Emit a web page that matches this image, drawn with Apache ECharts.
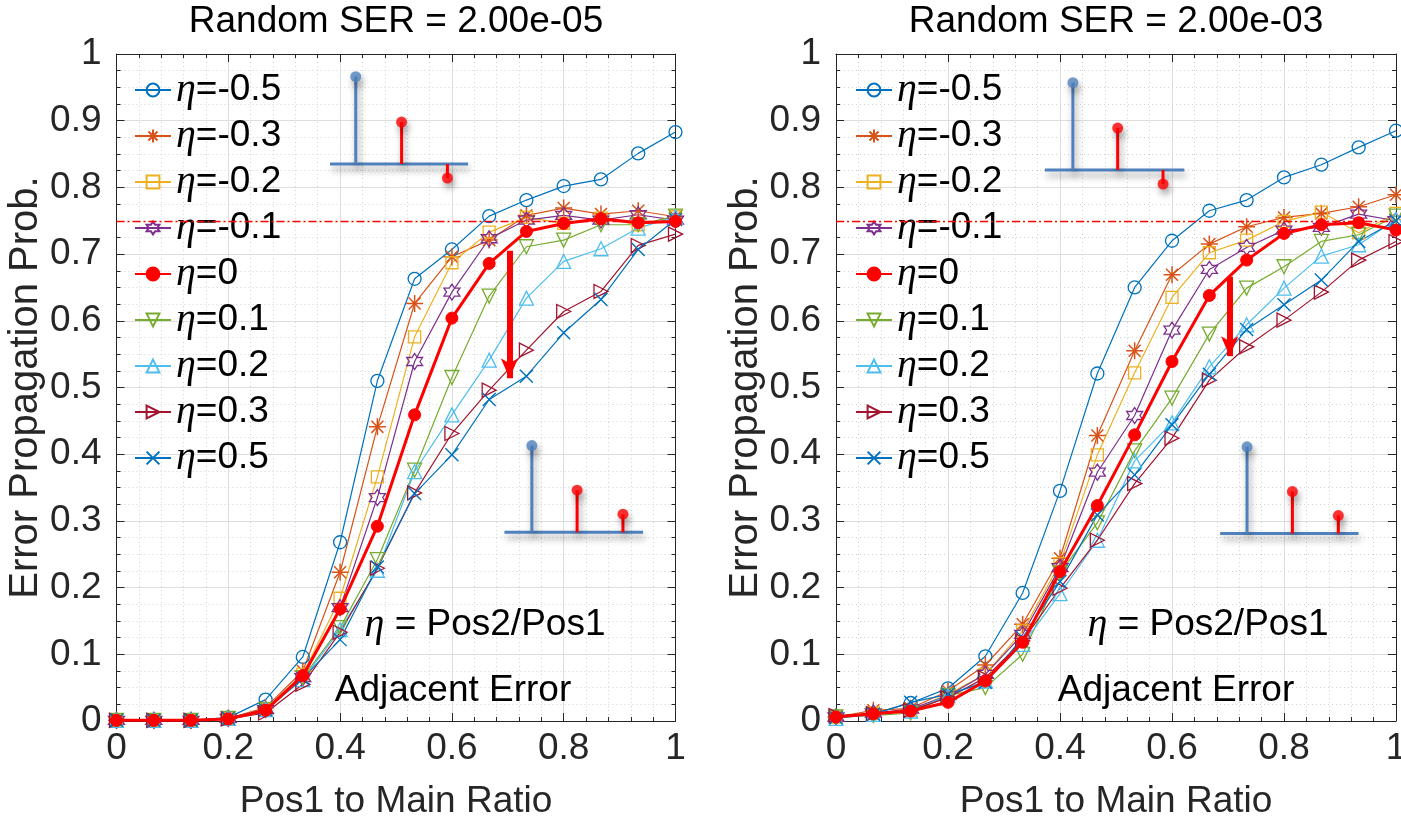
<!DOCTYPE html>
<html><head><meta charset="utf-8">
<script src="https://cdn.jsdelivr.net/npm/echarts@6/dist/echarts.min.js"></script>
<style>html,body{margin:0;padding:0;background:#fff}#c{width:1401px;height:821px}</style>
</head><body><div id="c"></div>
<script>
// ---------- data ----------
const posRatio = [0, 0.0667, 0.1333, 0.2, 0.2667, 0.3333, 0.4, 0.4667, 0.5333, 0.6, 0.6667, 0.7333, 0.8, 0.8667, 0.9333, 1];
const etaNames = ['η=-0.5', 'η=-0.3', 'η=-0.2', 'η=-0.1', 'η=0', 'η=0.1', 'η=0.2', 'η=0.3', 'η=0.5'];
const panelTitles = ['Random SER = 2.00e-05', 'Random SER = 2.00e-03'];
const xTickLabels = ['0', '0.2', '0.4', '0.6', '0.8', '1'];
const yTickLabels = ['0', '0.1', '0.2', '0.3', '0.4', '0.5', '0.6', '0.7', '0.8', '0.9', '1'];
const xName = 'Pos1 to Main Ratio';
const yName = 'Error Propagation Prob.';
const threshold = 0.75;

// SER = 2e-5
const L_m05 = [0.001, 0.001, 0.001, 0.005, 0.032, 0.096, 0.268, 0.510, 0.663, 0.707, 0.757, 0.781, 0.802, 0.812, 0.851, 0.883];
const L_m03 = [0.001, 0.001, 0.001, 0.004, 0.020, 0.075, 0.223, 0.441, 0.626, 0.696, 0.721, 0.758, 0.769, 0.760, 0.765, 0.756];
const L_m02 = [0.001, 0.001, 0.001, 0.004, 0.018, 0.070, 0.184, 0.366, 0.576, 0.687, 0.733, 0.755, 0.746, 0.754, 0.744, 0.756];
const L_m01 = [0.001, 0.001, 0.001, 0.004, 0.017, 0.065, 0.170, 0.335, 0.539, 0.643, 0.723, 0.751, 0.758, 0.751, 0.759, 0.751];
const L_0   = [0.001, 0.001, 0.001, 0.003, 0.016, 0.068, 0.168, 0.292, 0.459, 0.604, 0.686, 0.734, 0.746, 0.753, 0.747, 0.749];
const L_p01 = [0.001, 0.001, 0.001, 0.004, 0.017, 0.065, 0.140, 0.242, 0.376, 0.515, 0.637, 0.711, 0.721, 0.744, 0.744, 0.757];
const L_p02 = [0.001, 0.001, 0.001, 0.004, 0.017, 0.062, 0.137, 0.226, 0.374, 0.459, 0.541, 0.634, 0.689, 0.708, 0.739, 0.756];
const L_p03 = [0.001, 0.001, 0.001, 0.003, 0.012, 0.055, 0.133, 0.229, 0.342, 0.431, 0.496, 0.556, 0.614, 0.644, 0.713, 0.730];
const L_p05 = [0.001, 0.001, 0.001, 0.004, 0.017, 0.064, 0.122, 0.231, 0.341, 0.399, 0.482, 0.517, 0.582, 0.632, 0.707, 0.752];

// SER = 2e-3
const R_m05 = [0.007, 0.011, 0.027, 0.049, 0.097, 0.192, 0.345, 0.521, 0.650, 0.720, 0.765, 0.781, 0.815, 0.834, 0.860, 0.885];
const R_m03 = [0.006, 0.016, 0.019, 0.045, 0.084, 0.145, 0.244, 0.428, 0.555, 0.669, 0.715, 0.741, 0.755, 0.761, 0.771, 0.789];
const R_m02 = [0.006, 0.012, 0.016, 0.040, 0.070, 0.135, 0.236, 0.399, 0.522, 0.635, 0.702, 0.721, 0.749, 0.763, 0.732, 0.761];
const R_m01 = [0.006, 0.012, 0.018, 0.038, 0.070, 0.130, 0.230, 0.373, 0.458, 0.586, 0.677, 0.710, 0.736, 0.740, 0.760, 0.750];
const R_0   = [0.006, 0.011, 0.015, 0.028, 0.060, 0.118, 0.224, 0.323, 0.429, 0.539, 0.638, 0.691, 0.731, 0.744, 0.747, 0.736];
const R_p01 = [0.006, 0.008, 0.012, 0.038, 0.050, 0.100, 0.222, 0.297, 0.405, 0.484, 0.580, 0.649, 0.681, 0.719, 0.729, 0.757];
const R_p02 = [0.004, 0.010, 0.015, 0.038, 0.060, 0.115, 0.191, 0.271, 0.390, 0.447, 0.531, 0.594, 0.649, 0.697, 0.714, 0.752];
const R_p03 = [0.008, 0.011, 0.016, 0.035, 0.065, 0.120, 0.199, 0.271, 0.356, 0.424, 0.511, 0.561, 0.601, 0.643, 0.691, 0.719];
const R_p05 = [0.005, 0.010, 0.028, 0.040, 0.058, 0.125, 0.209, 0.309, 0.369, 0.444, 0.520, 0.587, 0.624, 0.661, 0.719, 0.750];

const panelData = [
  [L_m05, L_m03, L_m02, L_m01, L_0, L_p01, L_p02, L_p03, L_p05],
  [R_m05, R_m03, R_m02, R_m01, R_0, R_p01, R_p02, R_p03, R_p05]
];

// red arrows (x, from, to) in data units
const arrowX = [0.703, 0.703];
const arrowFrom = [0.705, 0.666];
const arrowTo = [0.514, 0.547];

// decorative stem icons in data units: baseline [x0,x1,y], stems [x, top]
const iconBase = [
  [[0.382, 0.629, 0.835], [0.694, 0.942, 0.283]],
  [[0.373, 0.622, 0.826], [0.686, 0.933, 0.281]]
];
const iconStems = [
  [[[0.428, 0.966], [0.510, 0.898], [0.592, 0.814]], [[0.743, 0.413], [0.824, 0.346], [0.906, 0.310]]],
  [[[0.423, 0.957], [0.503, 0.889], [0.584, 0.805]], [[0.734, 0.411], [0.815, 0.344], [0.897, 0.308]]]
];

// ---------- styles ----------
const FONT = '"Liberation Sans", Arial, sans-serif';
const AX = '#262626';
const colors = ['#0072BD', '#D95319', '#EDB120', '#7E2F8E', '#FF0000', '#77AC30', '#4DBEEE', '#A2142F', '#0072BD'];
const ASTER = 'path://M0,-10L0,10M-10,0L10,0M-7.07,-7.07L7.07,7.07M-7.07,7.07L7.07,-7.07';
const HEXA = 'path://M0,-10L2.887,-5L8.66,-5L5.774,0L8.66,5L2.887,5L0,10L-2.887,5L-8.66,5L-5.774,0L-8.66,-5L-2.887,-5Z';
const XMARK = 'path://M-10,-10L10,10M-10,10L10,-10';
const symbols = ['circle', ASTER, 'rect', HEXA, 'circle', 'triangle', 'triangle', 'triangle', XMARK];
const symRot = [0, 0, 0, 0, 0, 180, 0, -90, 0];
const symSize = [13, 17, 12, 16, 12, 14, 14, 14, 13];
const symBorder = [1.3, 1.5, 1.3, 1.3, 1, 1.3, 1.3, 1.3, 1.4];

const grids = [
  {left: 116.5, top: 54, width: 559, height: 667, outerBoundsMode: 'none', containLabel: false},
  {left: 836, top: 54, width: 560, height: 667, outerBoundsMode: 'none', containLabel: false}
];

const xAxes = [], yAxes = [];
grids.forEach((g, gi) => {
  xAxes.push({
    type: 'value', gridIndex: gi, min: 0, max: 1, interval: 0.2, position: 'bottom',
    axisLine: {show: true, onZero: false, lineStyle: {color: AX, width: 1}},
    axisTick: {show: true, inside: true, length: 8, lineStyle: {color: AX}},
    minorTick: {show: true, splitNumber: 5, length: 4, lineStyle: {color: AX}},
    axisLabel: {fontSize: 37, fontFamily: FONT, color: AX, margin: 9, hideOverlap: false,
      formatter: v => xTickLabels[Math.round(v / 0.2)]},
    splitLine: {show: true, lineStyle: {color: '#dedede', width: 1}},
    minorSplitLine: {show: true, lineStyle: {color: '#d2d2d2', width: 1, type: [1, 3]}},
    name: xName, nameLocation: 'middle', nameGap: 62,
    nameTextStyle: {fontSize: 37, fontFamily: FONT, color: AX}
  });
  xAxes.push({
    type: 'value', gridIndex: gi, min: 0, max: 1, interval: 0.2, position: 'top',
    axisLine: {show: true, onZero: false, lineStyle: {color: AX, width: 1}},
    axisTick: {show: true, inside: true, length: 8, lineStyle: {color: AX}},
    minorTick: {show: true, splitNumber: 5, length: 4, lineStyle: {color: AX}},
    axisLabel: {show: false}, splitLine: {show: false}
  });
  yAxes.push({
    type: 'value', gridIndex: gi, min: 0, max: 1, interval: 0.1, position: 'left',
    axisLine: {show: true, onZero: false, lineStyle: {color: AX, width: 1}},
    axisTick: {show: true, inside: true, length: 8, lineStyle: {color: AX}},
    minorTick: {show: true, splitNumber: 4, length: 4, lineStyle: {color: AX}},
    axisLabel: {fontSize: 37, fontFamily: FONT, color: AX, margin: 15, hideOverlap: false,
      formatter: v => yTickLabels[Math.round(v / 0.1)]},
    splitLine: {show: true, lineStyle: {color: '#dedede', width: 1}},
    minorSplitLine: {show: true, lineStyle: {color: '#d2d2d2', width: 1, type: [1, 3]}},
    name: yName, nameLocation: 'middle', nameGap: 64,
    nameTextStyle: {fontSize: 40, fontFamily: FONT, color: AX}
  });
  yAxes.push({
    type: 'value', gridIndex: gi, min: 0, max: 1, interval: 0.1, position: 'right',
    axisLine: {show: true, onZero: false, lineStyle: {color: AX, width: 1}},
    axisTick: {show: true, inside: true, length: 8, lineStyle: {color: AX}},
    minorTick: {show: true, splitNumber: 4, length: 4, lineStyle: {color: AX}},
    axisLabel: {show: false}, splitLine: {show: false}
  });
});

const series = [];
const shadow = {shadowBlur: 7, shadowColor: 'rgba(0,0,0,0.4)', shadowOffsetX: 2, shadowOffsetY: 5};
panelData.forEach((arrs, p) => {
  const xi = p * 2, yi = p * 2;
  arrs.forEach((vals, i) => {
    const isRed = i === 4;
    const s = {
      type: 'line', name: etaNames[i], xAxisIndex: xi, yAxisIndex: yi,
      data: vals.map((v, k) => [posRatio[k], v]),
      symbol: symbols[i], symbolSize: symSize[i], symbolRotate: symRot[i],
      showAllSymbol: true, silent: true, animation: false,
      lineStyle: {color: colors[i], width: isRed ? 3 : 1.2},
      itemStyle: isRed ? {color: colors[i], borderColor: colors[i], borderWidth: symBorder[i]}
                       : {color: 'rgba(255,255,255,0)', borderColor: colors[i], borderWidth: symBorder[i]},
      z: isRed ? 3 : 2
    };
    if (isRed) {
      s.markLine = {
        silent: true, animation: false, symbol: 'none', label: {show: false},
        emphasis: {disabled: true},
        data: [
          {yAxis: threshold, lineStyle: {color: '#FF0000', width: 1.3, type: [8, 3, 2, 3]}},
          [
            {coord: [arrowX[p], arrowFrom[p]], symbol: 'none', lineStyle: {color: '#FF0000', width: 6, type: 'solid'}},
            {coord: [arrowX[p], arrowTo[p]], symbol: 'arrow', symbolSize: [13, 20], lineStyle: {color: '#FF0000', width: 6, type: 'solid'}}
          ]
        ]
      };
    }
    series.push(s);
  });
  // decorative stem icons
  iconBase[p].forEach((b, bi) => {
    series.push({
      type: 'line', xAxisIndex: xi, yAxisIndex: yi, silent: true, animation: false, symbol: 'none', z: 4,
      data: [[b[0], b[2]], [b[1], b[2]]],
      lineStyle: Object.assign({color: '#4F81BD', width: 3}, shadow)
    });
    iconStems[p][bi].forEach((st, si) => {
      const c = si === 0 ? '#4F81BD' : '#FF0000';
      series.push({
        type: 'line', xAxisIndex: xi, yAxisIndex: yi, silent: true, animation: false, symbol: 'none', z: 4,
        data: [[st[0], b[2]], [st[0], st[1]]],
        lineStyle: Object.assign({color: c, width: 3}, shadow)
      });
      series.push({
        type: 'scatter', xAxisIndex: xi, yAxisIndex: yi, silent: true, animation: false, z: 5,
        data: [[st[0], st[1]]], symbol: 'circle', symbolSize: 11,
        itemStyle: Object.assign({color: c}, shadow)
      });
    });
  });
});

const etaRich = {e: {fontFamily: '"Liberation Serif", "DejaVu Serif", serif', fontStyle: 'italic', fontSize: 40, lineHeight: 40}};
const legends = [134, 855].map(lx => ({
  data: etaNames, orient: 'vertical', left: lx, top: 70, padding: 0,
  itemWidth: 36, itemHeight: 16, itemGap: 6, selectedMode: false,
  textStyle: {fontSize: 37, fontFamily: FONT, color: '#000', lineHeight: 40, rich: etaRich},
  formatter: n => '{e|η}' + n.slice(1)
}));

const graphic = [];
const titleX = [396, 1116];
titleX.forEach((tx, i) => {
  graphic.push({type: 'text', x: tx, y: 22, silent: true,
    style: {text: panelTitles[i], fontSize: 37, fontFamily: FONT, fill: '#000', align: 'center', verticalAlign: 'middle'}});
});
const etaNoteX = [485, 1208], adjX = [453, 1176];
[0, 1].forEach(i => {
  graphic.push({type: 'text', x: etaNoteX[i], y: 625, silent: true, z: 10,
    style: {text: '{e|η} = Pos2/Pos1', rich: etaRich, fontSize: 37, fontFamily: FONT, fill: '#000', align: 'center', verticalAlign: 'middle'}});
  graphic.push({type: 'text', x: adjX[i], y: 691, silent: true, z: 10,
    style: {text: 'Adjacent Error', fontSize: 37, fontFamily: FONT, fill: '#000', align: 'center', verticalAlign: 'middle'}});
});

const chart = echarts.init(document.getElementById('c'), null, {renderer: 'canvas'});
chart.setOption({
  animation: false,
  backgroundColor: '#fff',
  grid: grids,
  xAxis: xAxes,
  yAxis: yAxes,
  legend: legends,
  series: series,
  graphic: graphic
});
</script>
</body></html>
